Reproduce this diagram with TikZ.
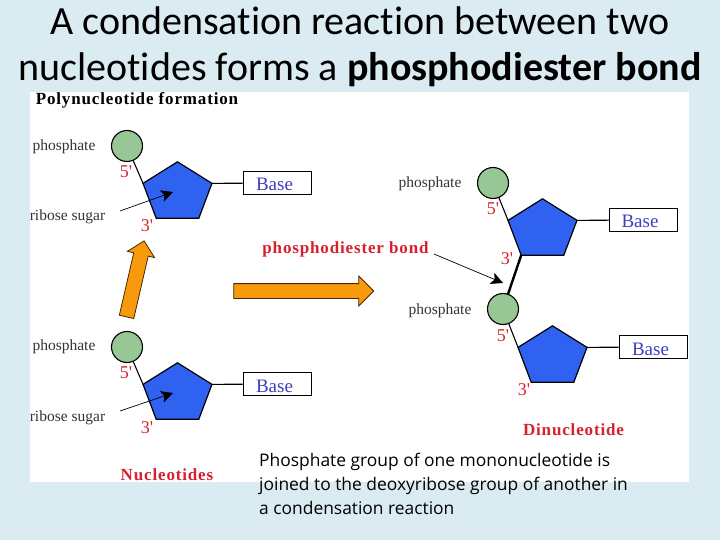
\documentclass[tikz,border=0pt]{standalone}
\usepackage{fontspec}
\setmainfont{Liberation Serif}
\newfontfamily\titlefont[Ligatures=NoCommon]{Carlito}
\newfontfamily\bodyfont{Open Sans}
\newfontfamily\trackedfont[LetterSpace=5]{Liberation Serif}
\usepackage{tikz}
\usetikzlibrary{positioning, arrows.meta, shapes.geometric, shapes.arrows}
\definecolor{slideblue}{HTML}{DAEBF2}
\definecolor{sugarblue}{HTML}{2F62F0}
\definecolor{phosgreen}{HTML}{97C795}
\definecolor{basetext}{HTML}{3E3EC0}
\definecolor{labelred}{HTML}{D8202C}
\definecolor{blockorange}{HTML}{F79A0C}
\tikzset{
		sugar/.style={
			regular polygon,
			regular polygon sides=5,
			draw=black,
			fill=sugarblue,
			line width=1.2pt,
			minimum size=72.5pt,
			inner sep=0pt,
			outer sep=0pt,
			yscale=0.86,
			transform shape
		},
		phos/.style={
			circle,
			draw=black,
			fill=phosgreen,
			line width=1.1pt,
			minimum size=31pt,
			inner sep=0pt,
			outer sep=0pt
		},
		basebox/.style={
			rectangle,
			draw=black,
			fill=white,
			line width=0.9pt,
			minimum width=68pt,
			minimum height=23pt,
			inner sep=0pt,
			outer sep=0pt,
			text=basetext,
			font=\fontsize{19}{19}\selectfont
		},
		blockarrow/.style={
			single arrow,
			draw=black!70!orange,
			fill=blockorange,
			line width=0.8pt,
			minimum width=27pt,
			single arrow head extend=6.5pt,
			inner xsep=0pt,
			inner ysep=7pt,
			outer sep=0pt
		},
		graylabel/.style={
			text=black!80,
			inner sep=0pt,
			yshift=-1.5pt,
			font=\fontsize{15.5}{15.5}\selectfont
		},
		prime/.style={
			text=labelred,
			inner sep=0pt,
			yshift=-1pt,
			font=\fontsize{18}{18}\selectfont
		},
		redbold/.style={
			text=labelred,
			inner sep=0pt,
			yshift=-1pt,
			font=\trackedfont\fontsize{17}{17}\selectfont\bfseries
		},
		link/.style={line width=1.1pt},
		pointer/.style={line width=0.7pt, -{Stealth[length=12pt, width=12pt, inset=3pt]}}
	}
\newcommand{\basetxt}{\hspace*{-6pt}\raisebox{-8pt}[0pt][0pt]{Base}}
\begin{document}
\begin{tikzpicture}[x=1pt, y=-1pt]
	\useasboundingbox[fill=slideblue] (0,0) rectangle (720,540);
	\fill[white] (30,92) rectangle (689,482);
	\node (slidetitle) [font=\titlefont\fontsize{40}{46}\selectfont, align=center, inner sep=0pt] at (360,46.5)
		{A condensation reaction between two\\nucleotides forms a \textbf{phosphodiester bond}};
	\node (heading) [inner sep=0pt, font=\trackedfont\fontsize{17}{17}\selectfont\bfseries] at (137,100.5) {Polynucleotide formation};
	% free nucleotides
	\node (sugar1) [sugar] at (177.5,193) {};
	\node (phos1) [phos] at (127,146) {};
	\node (base1) [basebox] at (277.5,183) {\basetxt};
	\node (sugar2) [sugar] at (177.5,394) {};
	\node (phos2) [phos] at (127,347) {};
	\node (base2) [basebox] at (277.5,384) {\basetxt};
	\draw [link] (phos1) -- (sugar1.corner 2);
	\draw [link] (sugar1.corner 5) -- (base1);
	\draw [link] (phos2) -- (sugar2.corner 2);
	\draw [link] (sugar2.corner 5) -- (base2);
	% dinucleotide
	\node (sugar3) [sugar] at (542.5,230) {};
	\node (phos3) [phos] at (493,183) {};
	\node (base3) [basebox] at (643,220) {\basetxt};
	\node (sugar4) [sugar] at (552.5,357) {};
	\node (phos4) [phos] at (503,309) {};
	\node (base4) [basebox] at (653.5,347) {\basetxt};
	\draw [link] (phos3) -- (sugar3.corner 2);
	\draw [link] (sugar3.corner 5) -- (base3);
	\draw [link] (phos4) -- (sugar4.corner 2);
	\draw [link] (sugar4.corner 5) -- (base4);
	\draw [line width=2.4pt] (sugar3.corner 3) -- (phos4);
	% labels
	\node (phoslabel1) [graylabel] at (64,145) {phosphate};
	\node (phoslabel2) [graylabel] at (64,345) {phosphate};
	\node (phoslabel3) [graylabel] at (430,182) {phosphate};
	\node (phoslabel4) [graylabel] at (440,309) {phosphate};
	\node (riblabel1) [graylabel] at (67.5,215) {ribose sugar};
	\node (riblabel2) [graylabel] at (67.5,416) {ribose sugar};
	\node (five1) [prime] at (126,171) {5\textquotesingle};
	\node (three1) [prime] at (147,225) {3\textquotesingle};
	\node (five2) [prime] at (126,372) {5\textquotesingle};
	\node (three2) [prime] at (147,427) {3\textquotesingle};
	\node (five3) [prime] at (493,208) {5\textquotesingle};
	\node (three3) [prime] at (507,258) {3\textquotesingle};
	\node (five4) [prime] at (503,335) {5\textquotesingle};
	\node (three4) [prime] at (524,389) {3\textquotesingle};
	\node (bondlabel) [redbold] at (345.5,248) {phosphodiester bond};
	\node (nuclabel) [redbold] at (167,474) {Nucleotides};
	\node (dinuclabel) [redbold] at (573.5,429) {Dinucleotide};
	% pointers
	\coordinate (ribfrom1) at (120,211);
	\coordinate (ribto1) at (173,192);
	\coordinate (ribfrom2) at (120,411);
	\coordinate (ribto2) at (173,393);
	\coordinate (bondfrom) at (434,254);
	\coordinate (bondto) at (503,283);
	\draw [pointer] (ribfrom1) -- (ribto1);
	\draw [pointer] (ribfrom2) -- (ribto2);
	\draw [pointer] (bondfrom) -- (bondto);
	% block arrows
	\node (uparrow) [blockarrow, minimum height=78pt, rotate=77] at (134.5,282.5) {};
	\node (rightarrow) [blockarrow, minimum width=29pt, single arrow head extend=7.5pt, minimum height=140pt] at (300,291) {};
	% caption
	\node (caption) [anchor=north west, align=left, inner sep=0pt, font=\bodyfont\fontsize{17.4}{24}\selectfont] at (259,452.5)
		{Phosphate group of one mononucleotide is\\joined to the deoxyribose group of another in\\a condensation reaction};
\end{tikzpicture}
\end{document}
